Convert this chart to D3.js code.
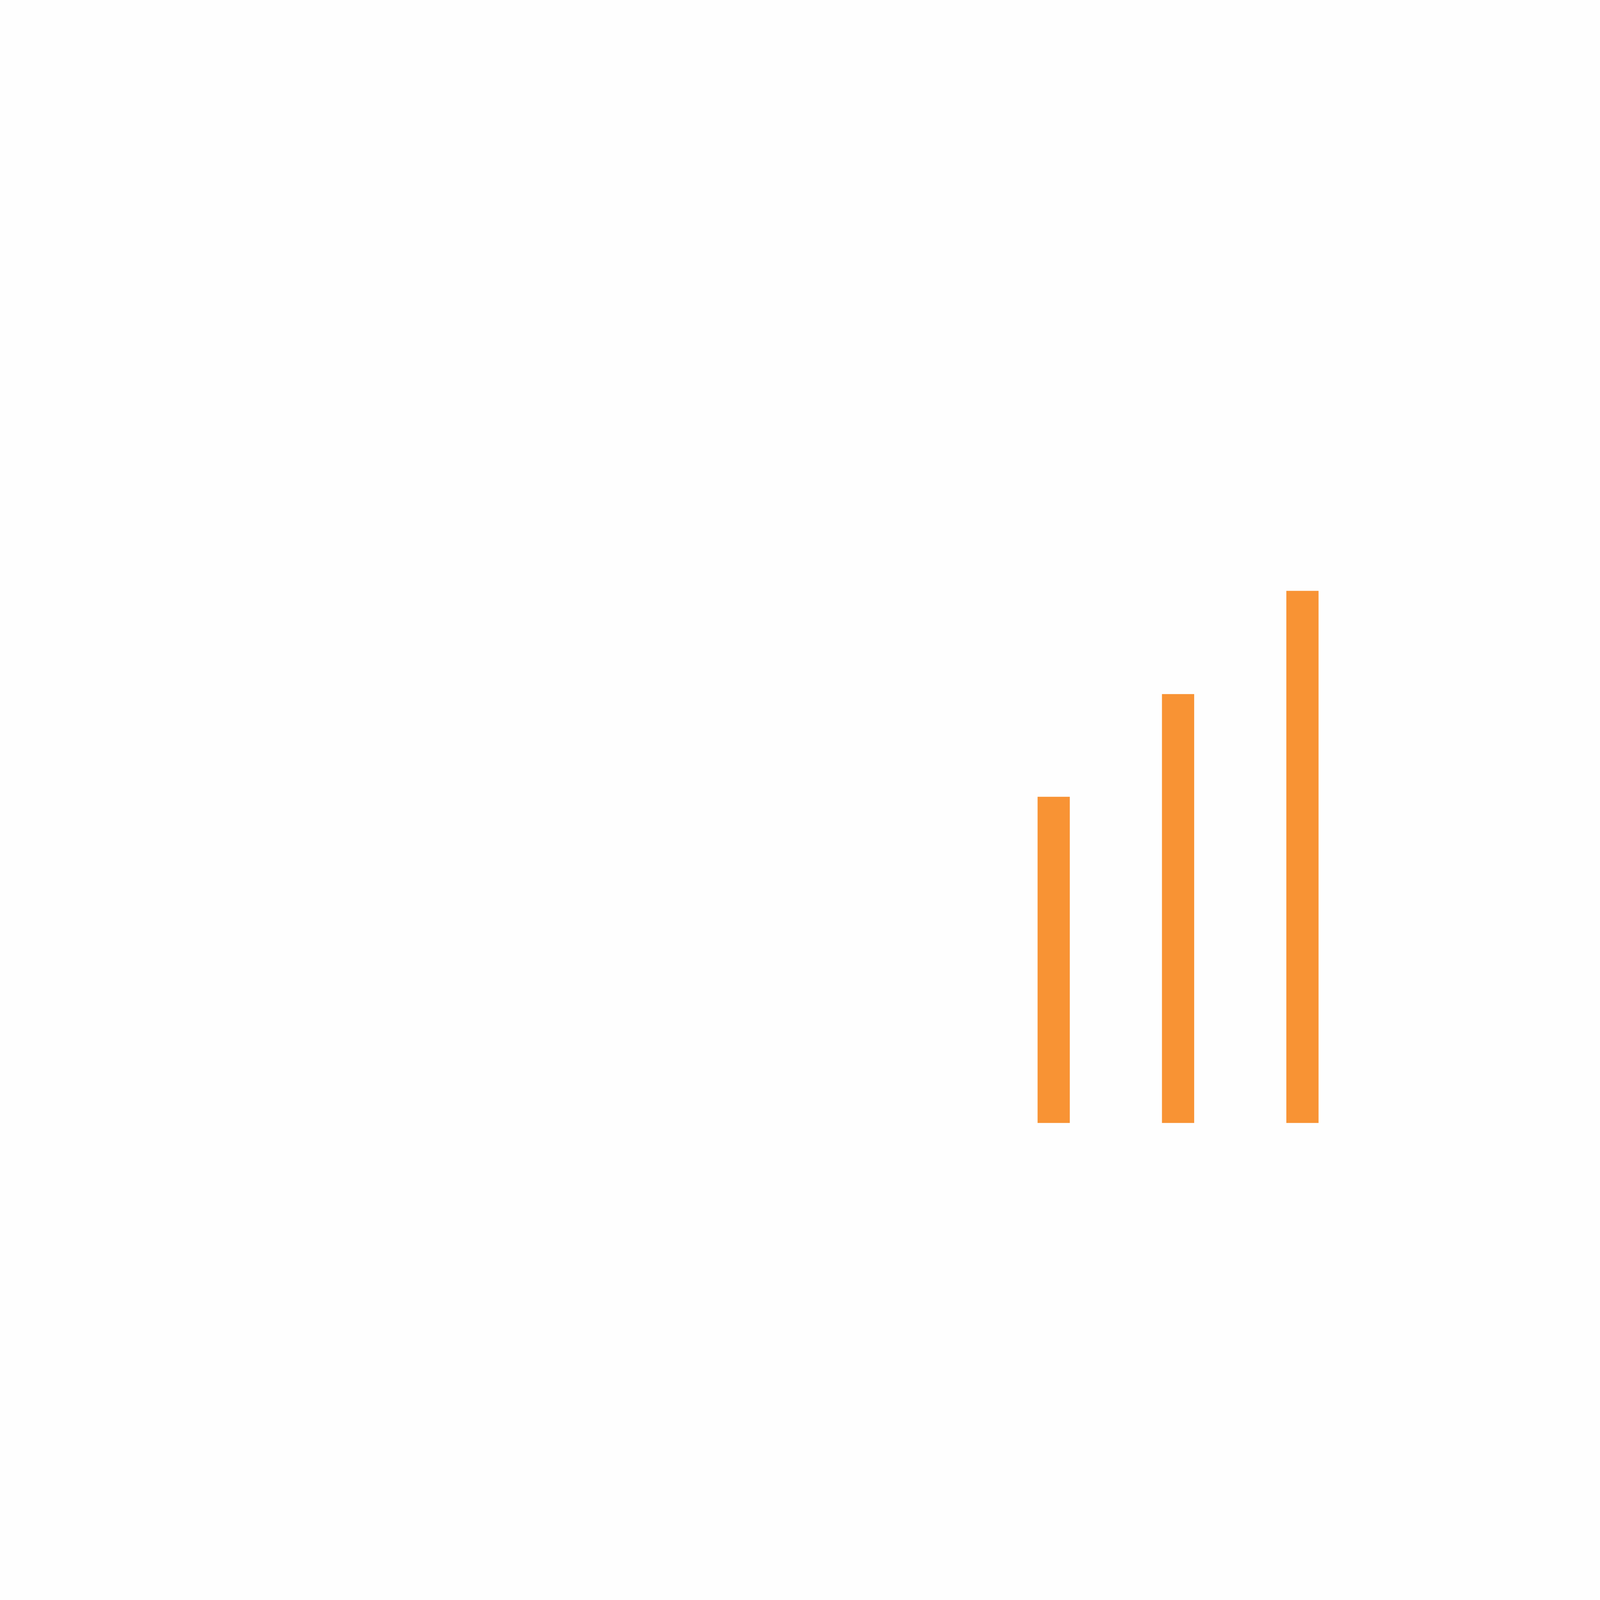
<!DOCTYPE html>
<html>
<head>
<meta charset="utf-8">
<script src="https://cdn.jsdelivr.net/npm/d3@7/dist/d3.min.js"></script>
<style>
  html, body { margin: 0; padding: 0; background: #fefefe; overflow: hidden; width: 100%; height: 100%; }
  svg { display: block; width: 100vw; height: 100vh; }
</style>
</head>
<body>
<svg id="chart" viewBox="0 0 6657 4330" preserveAspectRatio="none"></svg>
<script>
window.onerror = function (m) {
  document.body.insertAdjacentHTML("afterbegin", "<div style='font-size:120px;color:red'>ERR " + m + "</div>");
};
// Data
const categories = ["A", "B", "C"];
const values = [61.3, 80.6, 100];

const W = 6657, H = 4330;
if (typeof d3 === "undefined") {
  document.body.insertAdjacentHTML("afterbegin", "<div style='font-size:120px;color:red'>NO D3 " + window.innerWidth + "x" + window.innerHeight + "</div>");
}
const svg = d3.select("#chart");

const x = d3.scaleBand()
  .domain(categories)
  .range([4125.25, 5677.75])
  .paddingInner(0.741)
  .paddingOuter(0.3705);

const y = d3.scaleLinear()
  .domain([0, 100])
  .range([3039, 1599]);

svg.append("g")
  .selectAll("rect")
  .data(categories)
  .join("rect")
  .attr("x", d => x(d))
  .attr("width", x.bandwidth())
  .attr("y", (d, i) => y(values[i]))
  .attr("height", (d, i) => y(0) - y(values[i]))
  .attr("fill", "#F89334");
</script>
</body>
</html>
